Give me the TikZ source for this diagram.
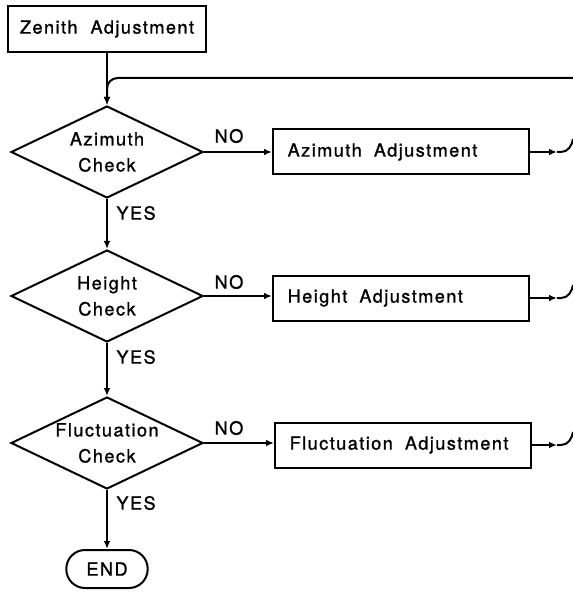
\documentclass[tikz,border=0pt]{standalone}
\usepackage{fontspec}
\setmainfont{TeX Gyre Heros}[LetterSpace=8,FakeBold=1.2]
\usetikzlibrary{shapes.geometric,arrows.meta}

\begin{document}
\begin{tikzpicture}[x=0.75pt,y=-0.75pt,line width=1.5pt,
  font=\fontsize{13.6}{19.5}\selectfont,
  arrow/.style={-{Latex[length=6pt,width=5pt]}},
  box/.style={draw,rectangle,minimum height=33.75pt,inner xsep=11pt,text width=170pt,align=left},
  startbox/.style={draw,rectangle,minimum width=149pt,minimum height=34.5pt},
  check/.style={draw,diamond,aspect=2.1,minimum width=144pt,minimum height=69pt,inner sep=0pt,align=center},
  term/.style={draw,rectangle,rounded corners=14pt,minimum width=61pt,minimum height=28.5pt}]
\useasboundingbox (0,0) rectangle (573,595);

% Main column
\node[startbox] (zen) at (107,29) {Zenith\ \ Adjustment};
\node[check] (az) at (107,152) {Azimuth\\Check};
\node[check] (ht) at (107,296) {Height\\Check};
\node[check] (fl) at (107,443) {Fluctuation\\Check};
\node[term] (end) at (107,569) {END};

% Adjustments
\node[box] (azadj) at (401,152) {Azimuth\ \ Adjustment};
\node[box] (htadj) at (401,298) {Height\ \ Adjustment};
\node[box] (fladj) at (403,445) {Fluctuation\ \ Adjustment};

% Flow down
\draw[arrow] (zen) -- (az);
\draw[arrow] (az) -- (ht);
\draw[arrow] (ht) -- (fl);
\draw[arrow] (fl) -- (end);

\node[anchor=west] (yes1) at (111,213) {YES};
\node[anchor=west] (yes2) at (111,357) {YES};
\node[anchor=west] (yes3) at (111,503) {YES};

% NO branches
\draw[arrow] (az.east) -- (az.east -| azadj.west);
\draw[arrow] (ht.east) -- (ht.east -| htadj.west);
\draw[arrow] (fl.east) -- (fl.east -| fladj.west);

\node (no1) at (229,136) {NO};
\node (no2) at (229,282) {NO};
\node (no3) at (229,428) {NO};

% Return lines
\coordinate (top) at (573,78);
\draw[arrow,rounded corners=8pt] (top) -| (az.north);

\coordinate (azret) at (557,152);
\coordinate (azup) at (573,139);
\draw[arrow] (azadj) -- (azret);
\draw (azret) -- ++(4,0) to[out=0,in=-100] (azup);

\coordinate (htret) at (557,298);
\coordinate (htup) at (573,285);
\draw[arrow] (htadj) -- (htret);
\draw (htret) -- ++(4,0) to[out=0,in=-100] (htup);

\coordinate (flret) at (557,445);
\coordinate (flup) at (573,432);
\draw[arrow] (fladj) -- (flret);
\draw (flret) -- ++(4,0) to[out=0,in=-100] (flup);
\end{tikzpicture}
\end{document}
